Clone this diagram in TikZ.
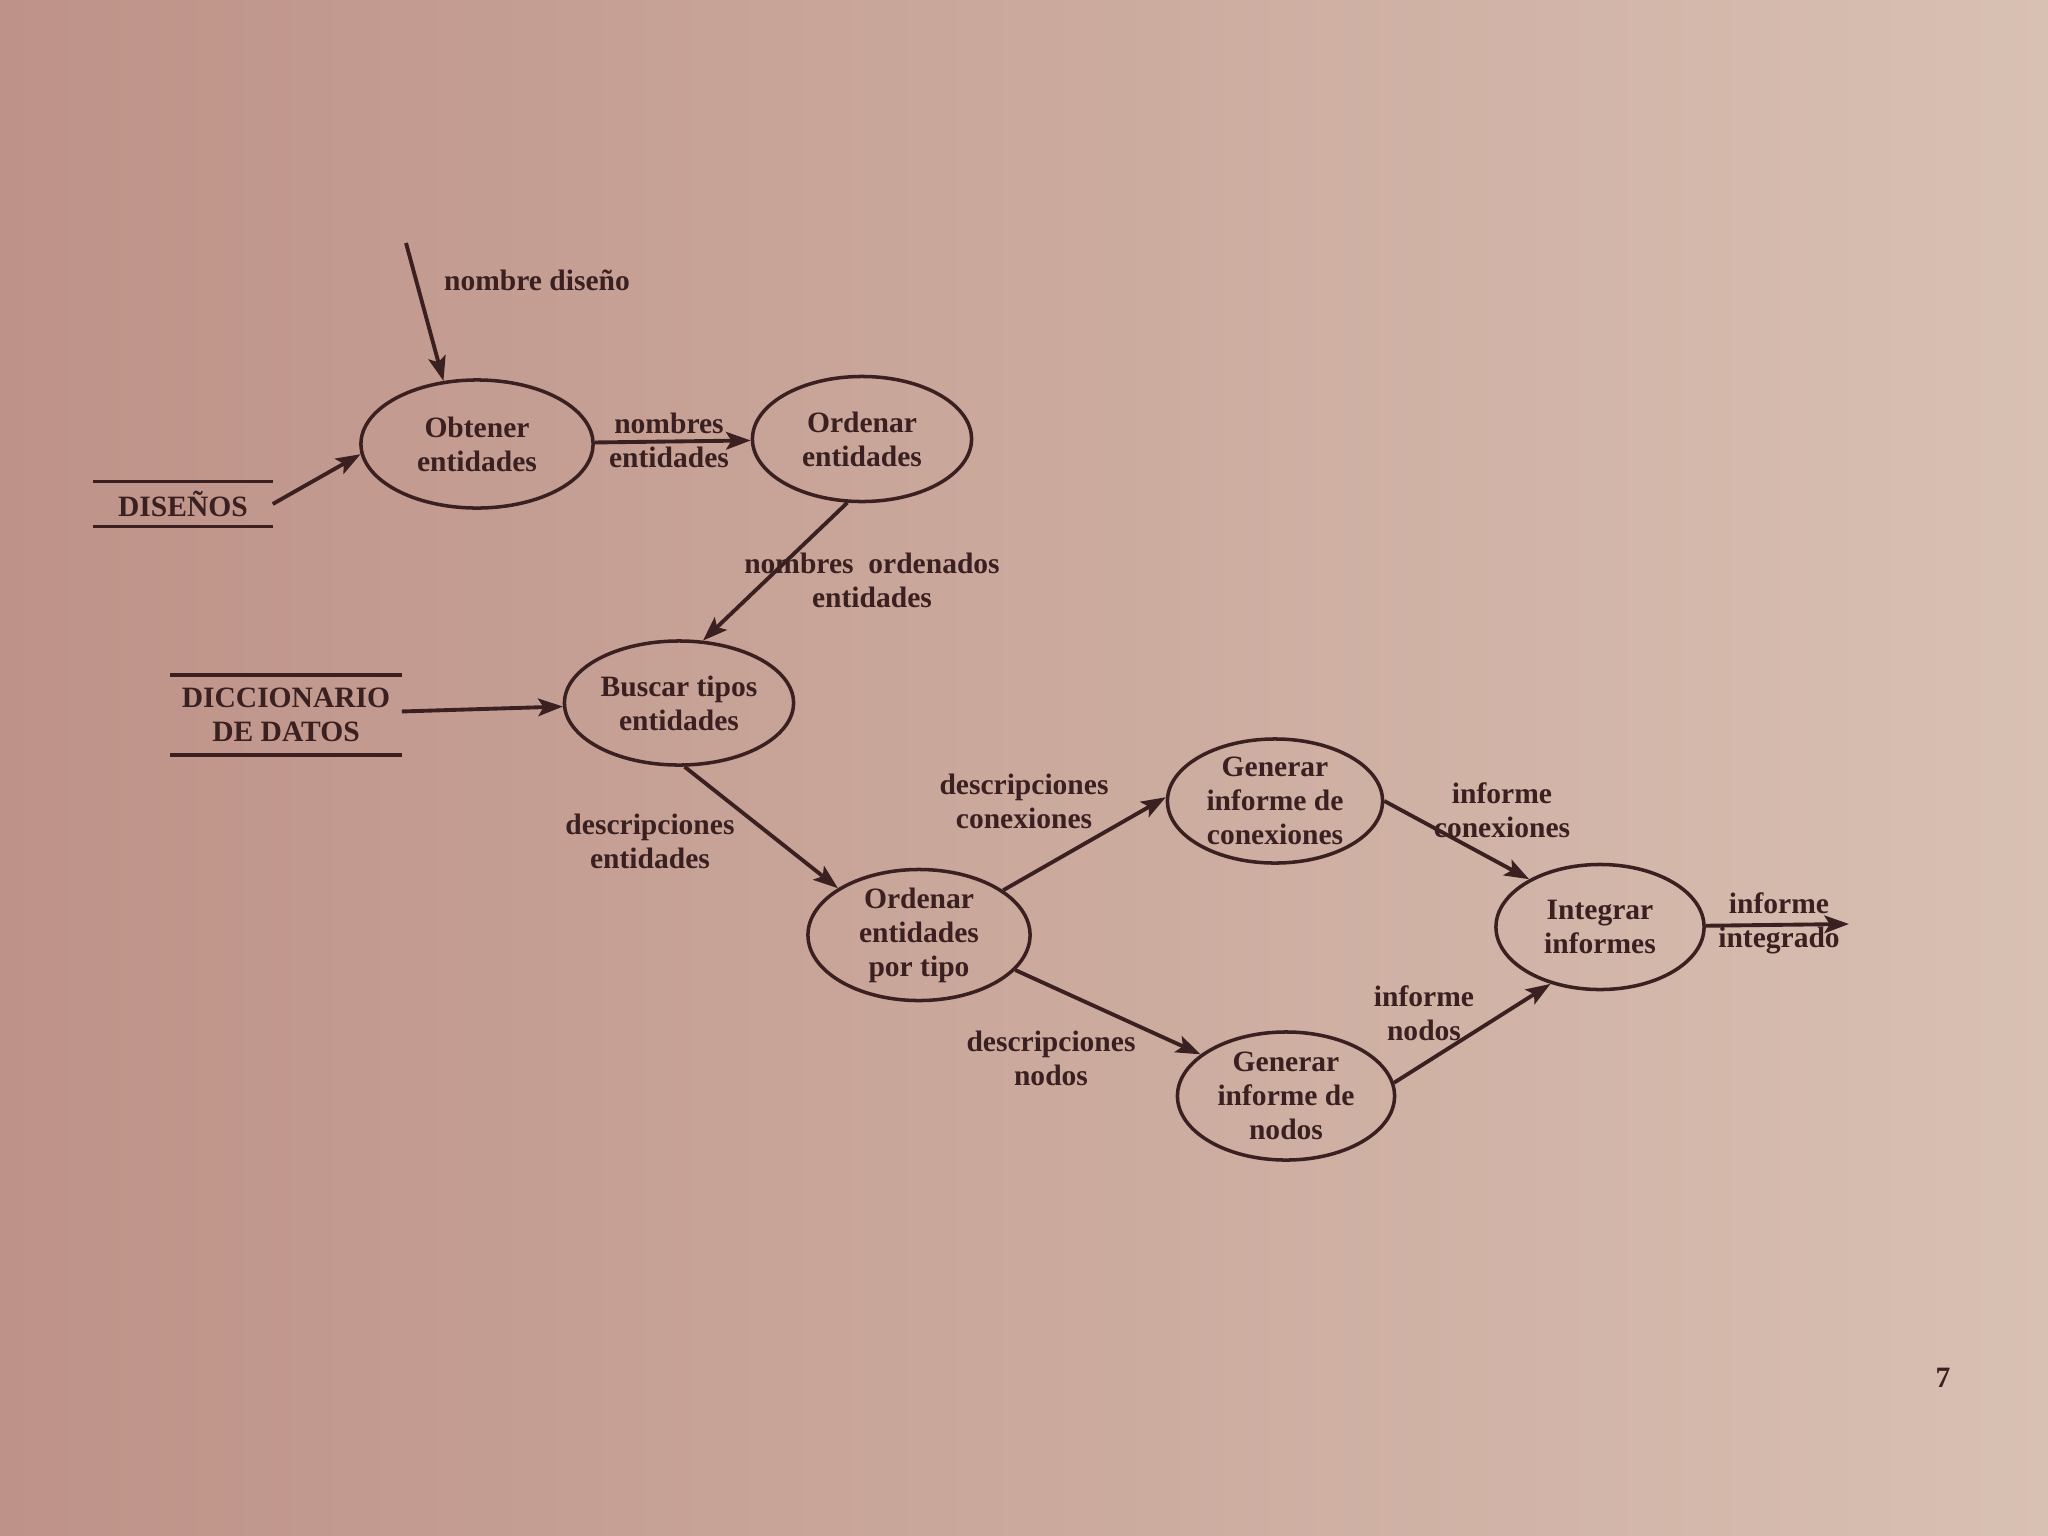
\documentclass[tikz,border=0pt]{standalone}
\usepackage{fontspec}
\setmainfont{Liberation Serif}
\usepackage{xcolor}
\usepackage{tikz}
\usetikzlibrary{arrows.meta, shapes.geometric}

\definecolor{ink}{RGB}{58,32,32}
\definecolor{paperL}{RGB}{190,146,136}
\definecolor{paperM}{RGB}{206,172,160}
\definecolor{paperR}{RGB}{216,192,178}
\newcommand\dfdfont{\fontsize{8.4pt}{9.7pt}\selectfont\bfseries}

\begin{document}
\begin{tikzpicture}[x=0.01cm, y=-0.01cm,
    lbl/.style={font=\dfdfont, text=ink, align=center, inner sep=0pt},
    proc/.style={draw=ink, line width=1pt, ellipse, inner sep=0pt},
    flow/.style={draw=ink, line width=1.1pt, -{Stealth[length=7pt, width=5pt, inset=1.5pt]}},
    every label/.style={lbl}]

  % Paper of the photographed page
  \shade[left color=paperL, middle color=paperM, right color=paperR] (0,0) rectangle (2048,1536);
  \useasboundingbox (0,0) rectangle (2048,1536);

  % Processes
  \node[proc, minimum width=2.32cm, minimum height=1.28cm, label={center:Obtener\\entidades}] (obt) at (477,444) {};
  \node[proc, minimum width=2.19cm, minimum height=1.25cm, label={center:Ordenar\\entidades}] (ord) at (862,439) {};
  \node[proc, minimum width=2.29cm, minimum height=1.24cm, label={center:Buscar tipos\\entidades}] (bus) at (679,703) {};
  \node[proc, minimum width=2.22cm, minimum height=1.31cm, label={center:Ordenar\\entidades\\por tipo}] (opt) at (919,935) {};
  \node[proc, minimum width=2.15cm, minimum height=1.24cm, label={center:Generar\\informe de\\conexiones}] (gcx) at (1275,801) {};
  \node[proc, minimum width=2.17cm, minimum height=1.28cm, label={center:Generar\\informe de\\nodos}] (gno) at (1286,1096) {};
  \node[proc, minimum width=2.08cm, minimum height=1.25cm, label={center:Integrar\\informes}] (int) at (1600,927) {};

  % Data stores between two lines
  \node[lbl, minimum width=1.78cm, minimum height=0.44cm] (dis) at (183,504) {DISEÑOS};
  \draw[ink, line width=1pt] (dis.north west) -- (dis.north east) (dis.south west) -- (dis.south east);
  \node[lbl, minimum width=2.30cm, minimum height=0.79cm] (dic) at (286,715) {DICCIONARIO\\DE DATOS};
  \draw[ink, line width=1pt] (dic.north west) -- (dic.north east) (dic.south west) -- (dic.south east);

  % Free ends
  \coordinate (src) at (406,243);
  \coordinate (sink) at (1849,924);

  % Data flows
  \draw[flow] (src) -- (obt.118);
  \draw[flow] (dis.east) -- (obt.185);
  \draw[flow] (obt) -- (ord);
  \draw[flow] (ord.257) -- (bus.69);
  \draw[flow] (dic) -- (bus);
  \draw[flow] (bus.275) -- (opt.150);
  \draw[flow] (opt.28) -- (gcx.178);
  \draw[flow] (opt.340) -- (gno.154);
  \draw[flow] (gcx.0) -- (int.146);
  \draw[flow] (gno.7) -- (int.229);
  \draw[flow] (int) -- (sink);

  % Flow labels
  \node[lbl] (l1) at (537,280) {nombre diseño};
  \node[lbl] (l2) at (669,440) {nombres\\entidades};
  \node[lbl] (l3) at (872,580) {nombres\enspace ordenados\\entidades};
  \node[lbl] (l4) at (650,841) {descripciones\\entidades};
  \node[lbl] (l5) at (1024,801) {descripciones\\conexiones};
  \node[lbl] (l6) at (1051,1058) {descripciones\\nodos};
  \node[lbl] (l7) at (1502,810) {informe\\conexiones};
  \node[lbl] (l8) at (1424,1013) {informe\\nodos};
  \node[lbl] (l9) at (1779,923) {informe\\integrado};

  % Page number
  \node[lbl] (pg) at (1943,1378) {7};

\end{tikzpicture}
\end{document}
